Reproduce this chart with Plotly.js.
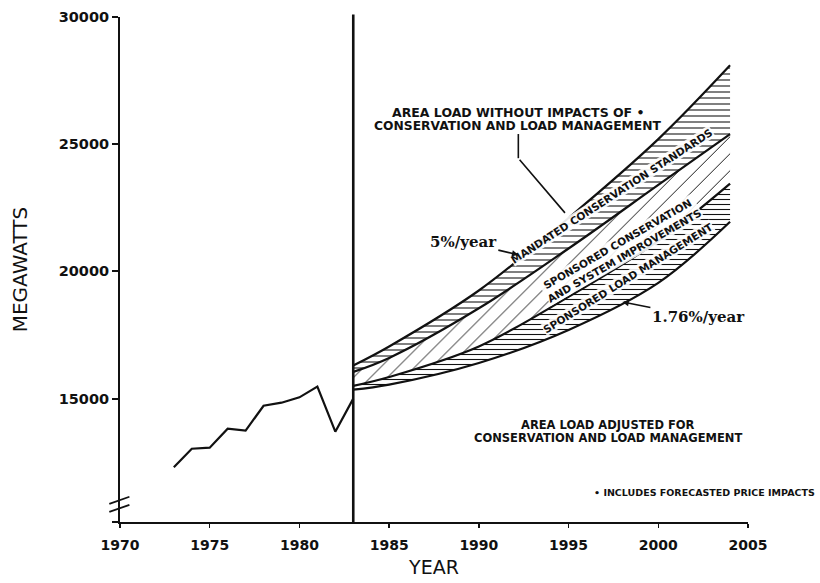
<!DOCTYPE html>
<html>
<head>
<meta charset="utf-8">
<script src="https://cdn.plot.ly/plotly-3.0.1.min.js"></script>
<style>
  html, body { margin: 0; padding: 0; background: #fff; }
  #chart { width: 820px; height: 583px; }
</style>
</head>
<body>
<div id="chart"></div>
<script>
// ---- Data ----
const historyYears = [1973, 1974, 1975, 1976, 1977, 1978, 1979, 1980, 1981, 1982, 1983];
const historyMW = [12300, 13030, 13070, 13820, 13740, 14720, 14840, 15050, 15470, 13700, 15000];

const forecastYears = [1983, 1985, 1990, 1995, 2000, 2004];
const loadWithoutImpacts = [16300, 17050, 19250, 22100, 25200, 28100];
const afterMandatedStandards = [16050, 16600, 18550, 20900, 23400, 25400];
const afterSponsoredConservation = [15500, 15850, 17050, 19000, 21200, 23450];
const adjustedLoad = [15350, 15550, 16400, 17700, 19550, 21950];

const forecastStartYear = 1983;
const xTickVals = [1970, 1975, 1980, 1985, 1990, 1995, 2000, 2005];
const xTickText = ['1970', '1975', '1980', '1985', '1990', '1995', '2000', '2005'];
const yTickVals = [10150, 15000, 20000, 25000, 30000];
const yTickText = ['', '15000', '20000', '25000', '30000'];

const ink = '#111111';
const boldSans = { family: 'DejaVu Sans, Verdana, sans-serif', color: ink, weight: 'bold' };
const serifBold = { family: 'DejaVu Serif, serif', size: 15, color: ink, weight: 'bold' };

const lineStyle = { color: ink, width: 2.2, shape: 'spline', smoothing: 1 };

const traces = [
  { x: historyYears, y: historyMW, type: 'scatter', mode: 'lines',
    line: { color: ink, width: 2.2 }, hoverinfo: 'skip', showlegend: false },
  { x: forecastYears, y: loadWithoutImpacts, type: 'scatter', mode: 'lines',
    line: lineStyle, showlegend: false },
  { x: forecastYears, y: afterMandatedStandards, type: 'scatter', mode: 'lines',
    line: lineStyle, fill: 'tonexty', fillcolor: 'rgba(255,255,255,0)',
    fillpattern: { shape: '-', fgcolor: ink, bgcolor: 'rgba(255,255,255,0)', size: 6, solidity: 0.18 },
    showlegend: false },
  { x: forecastYears, y: afterSponsoredConservation, type: 'scatter', mode: 'lines',
    line: lineStyle, fill: 'tonexty', fillcolor: 'rgba(255,255,255,0)',
    fillpattern: { shape: '/', fgcolor: ink, bgcolor: 'rgba(255,255,255,0)', size: 12, solidity: 0.08 },
    showlegend: false },
  { x: forecastYears, y: adjustedLoad, type: 'scatter', mode: 'lines',
    line: lineStyle, fill: 'tonexty', fillcolor: 'rgba(255,255,255,0)',
    fillpattern: { shape: '-', fgcolor: ink, bgcolor: 'rgba(255,255,255,0)', size: 5, solidity: 0.22 },
    showlegend: false }
];

const annotations = [
  { x: 1992.2, y: 26266, xref: 'x', yref: 'y', showarrow: false,
    text: 'AREA LOAD WITHOUT IMPACTS OF •', font: Object.assign({ size: 12.5 }, boldSans) },
  { x: 1992.2, y: 25716, xref: 'x', yref: 'y', showarrow: false,
    text: 'CONSERVATION AND LOAD MANAGEMENT', font: Object.assign({ size: 12.3 }, boldSans) },
  { x: 1994.8, y: 22300, xref: 'x', yref: 'y', axref: 'x', ayref: 'y',
    ax: 1992.2, ay: 24450, text: '', showarrow: true, arrowhead: 0,
    arrowwidth: 1.6, arrowcolor: ink },
  { x: 1997.4, y: 22950, xref: 'x', yref: 'y', showarrow: false, textangle: -33,
    text: 'MANDATED CONSERVATION STANDARDS', bgcolor: 'rgba(255,255,255,0.9)', borderpad: 0,
    font: Object.assign({ size: 10.5 }, boldSans) },
  { x: 1997.9, y: 20850, xref: 'x', yref: 'y', showarrow: false, textangle: -30,
    text: 'SPONSORED CONSERVATION<br>AND SYSTEM IMPROVEMENTS', bgcolor: 'rgba(255,255,255,0.9)', borderpad: 0,
    font: Object.assign({ size: 10.5 }, boldSans) },
  { x: 1998.3, y: 19750, xref: 'x', yref: 'y', showarrow: false, textangle: -32,
    text: 'SPONSORED LOAD MANAGEMENT', bgcolor: 'rgba(255,255,255,0.9)', borderpad: 0,
    font: Object.assign({ size: 10.5 }, boldSans) },
  { x: 1992.2, y: 20650, xref: 'x', yref: 'y', ax: -55, ay: -13,
    text: '5%/year', showarrow: true, arrowhead: 2, arrowsize: 0.8, arrowwidth: 1.6, arrowcolor: ink,
    font: serifBold },
  { x: 1998.0, y: 18800, xref: 'x', yref: 'y', ax: 76, ay: 15,
    text: '1.76%/year', showarrow: true, arrowhead: 2, arrowsize: 0.8, arrowwidth: 1.6, arrowcolor: ink,
    font: serifBold },
  { x: 2005.1, y: 28231, xref: 'x', yref: 'y', xanchor: 'left', showarrow: false,
    text: '-28', font: Object.assign({ size: 14 }, boldSans) },
  { x: 2005.1, y: 21942, xref: 'x', yref: 'y', xanchor: 'left', showarrow: false,
    text: '-22', font: Object.assign({ size: 14 }, boldSans) },
  { x: 1997.2, y: 13963, xref: 'x', yref: 'y', showarrow: false,
    text: 'AREA LOAD ADJUSTED FOR', font: Object.assign({ size: 11.5 }, boldSans) },
  { x: 1997.2, y: 13452, xref: 'x', yref: 'y', showarrow: false,
    text: 'CONSERVATION AND LOAD MANAGEMENT', font: Object.assign({ size: 11.5 }, boldSans) },
  { x: 1.11, y: 11329, xref: 'paper', yref: 'y', xanchor: 'right', showarrow: false,
    text: '• INCLUDES FORECASTED PRICE IMPACTS',
    font: Object.assign({ size: 9.5 }, boldSans) }
];

const shapes = [
  { type: 'line', xref: 'x', yref: 'paper', x0: forecastStartYear, x1: forecastStartYear,
    y0: 0, y1: 1.005, line: { color: ink, width: 2.6 } },
  { type: 'line', xref: 'x', yref: 'y', x0: 1992.2, x1: 1992.2, y0: 25400, y1: 24450,
    line: { color: ink, width: 1.6 } },
  { type: 'line', xref: 'paper', yref: 'paper', x0: -0.017, x1: 0.015, y0: 0.036, y1: 0.050,
    line: { color: ink, width: 1.8 } },
  { type: 'line', xref: 'paper', yref: 'paper', x0: -0.017, x1: 0.015, y0: 0.020, y1: 0.034,
    line: { color: ink, width: 1.8 } }
];

const layout = {
  width: 820, height: 583,
  margin: { l: 120, r: 72, t: 17, b: 61 },
  paper_bgcolor: '#ffffff', plot_bgcolor: '#ffffff',
  showlegend: false,
  xaxis: {
    range: [1970, 2005], tickvals: xTickVals, ticktext: xTickText,
    showgrid: false, zeroline: false, showline: true, linecolor: ink, linewidth: 2,
    ticks: 'outside', ticklen: 4, tickwidth: 1.5, tickcolor: ink, ticklabelstandoff: 5,
    tickfont: { family: 'DejaVu Sans, sans-serif', size: 14, color: ink, weight: 'bold' },
    title: { text: 'YEAR', font: { family: 'DejaVu Sans, sans-serif', size: 19, color: ink }, standoff: 9 }
  },
  yaxis: {
    range: [10150, 30000], tickvals: yTickVals, ticktext: yTickText,
    showgrid: false, zeroline: false, showline: true, linecolor: ink, linewidth: 2,
    ticks: 'outside', ticklen: 6, tickwidth: 2, tickcolor: ink,
    tickfont: { family: 'DejaVu Sans, sans-serif', size: 14.5, color: ink, weight: 'bold' },
    title: { text: 'MEGAWATTS', font: { family: 'DejaVu Sans, sans-serif', size: 20, color: ink }, standoff: 26 }
  },
  annotations: annotations,
  shapes: shapes
};

Plotly.newPlot('chart', traces, layout, { staticPlot: true, displayModeBar: false });
</script>
</body>
</html>
